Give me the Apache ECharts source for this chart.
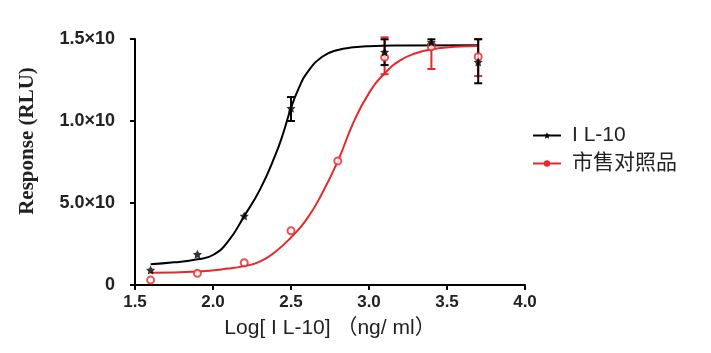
<!DOCTYPE html>
<html>
<head>
<meta charset="utf-8">
<script src="https://cdn.jsdelivr.net/npm/echarts@6/dist/echarts.min.js"></script>
<style>
html,body{margin:0;padding:0;background:#fff;}
#chart{width:711px;height:353px;}
</style>
</head>
<body>
<div id="chart"></div>
<script>
// 测量点 (log 浓度)
var ilX = [1.6, 1.9, 2.2, 2.5, 3.1, 3.4, 3.7];
var ilY = [0.091, 0.187, 0.42, 1.077, 1.42, 1.48, 1.36];
var ilLow = [0.091, 0.187, 0.42, 1.0, 1.341, 1.465, 1.23];
var ilHigh = [0.091, 0.187, 0.42, 1.146, 1.498, 1.498, 1.498];

var refX = [1.6, 1.9, 2.2, 2.5, 2.8, 3.1, 3.4, 3.7];
var refY = [0.03, 0.071, 0.136, 0.331, 0.756, 1.388, 1.453, 1.392];
var refLow = [0.03, 0.071, 0.136, 0.331, 0.756, 1.285, 1.317, 1.274];
var refHigh = [0.03, 0.071, 0.136, 0.331, 0.756, 1.51, 1.47, 1.5];

// 拟合曲线 (读图取点)
var ilCurveX = [1.6, 1.75, 1.9, 2.0, 2.1, 2.2, 2.3, 2.4, 2.45, 2.5, 2.55, 2.6, 2.7, 2.8, 2.9, 3.0, 3.2, 3.7];
var ilCurveY = [0.126, 0.138, 0.157, 0.183, 0.27, 0.42, 0.58, 0.793, 0.925, 1.08, 1.2, 1.29, 1.392, 1.433, 1.449, 1.456, 1.46, 1.462];
var refCurveX = [1.6, 1.9, 2.1, 2.2, 2.3, 2.4, 2.5, 2.6, 2.7, 2.8, 2.9, 3.0, 3.1, 3.2, 3.3, 3.4, 3.55, 3.7];
var refCurveY = [0.075, 0.083, 0.1, 0.115, 0.142, 0.203, 0.29, 0.4, 0.56, 0.755, 0.99, 1.17, 1.29, 1.37, 1.413, 1.437, 1.452, 1.457];

var yTickLabels = {'0': '0', '0.5': '5.0×10', '1': '1.0×10', '1.5': '1.5×10'};

var starPath = 'path://M0,-10L2.9,-4L9.5,-3.1L4.8,1.5L5.9,8.1L0,5L-5.9,8.1L-4.8,1.5L-9.5,-3.1L-2.9,-4Z';

function zip(a, b){
    return a.map(function(v, i){ return [v, b[i]]; });
}

function errorBar(color){
    return function(params, api){
        var x = api.value(0);
        var lo = api.coord([x, api.value(1)]);
        var hi = api.coord([x, api.value(2)]);
        if (Math.abs(lo[1] - hi[1]) < 1) return;
        var w = 4;
        var style = {stroke: color, lineWidth: 2};
        return {
            type: 'group',
            children: [
                {type: 'line', shape: {x1: lo[0], y1: lo[1], x2: hi[0], y2: hi[1]}, style: style},
                {type: 'line', shape: {x1: lo[0] - w, y1: lo[1], x2: lo[0] + w, y2: lo[1]}, style: style},
                {type: 'line', shape: {x1: hi[0] - w, y1: hi[1], x2: hi[0] + w, y2: hi[1]}, style: style}
            ]
        };
    };
}

var chart = echarts.init(document.getElementById('chart'));
var option = {
    animation: false,
    grid: {left: 135, right: 186, top: 39, bottom: 68},
    legend: {
        orient: 'vertical',
        left: 527,
        top: 120,
        itemWidth: 28,
        itemHeight: 8,
        itemGap: 7,
        textStyle: {fontSize: 21, color: '#222', fontFamily: 'Liberation Sans, Noto Sans CJK SC', padding: [0, 0, 0, 6]},
        data: ['I L-10', '市售对照品']
    },
    xAxis: {
        type: 'value',
        min: 1.5,
        max: 4.0,
        interval: 0.5,
        name: 'Log[ I L-10] （ng/ ml）',
        nameLocation: 'middle',
        nameGap: 33,
        nameTextStyle: {fontSize: 21, color: '#222', fontFamily: 'Liberation Sans, Noto Sans CJK SC'},
        axisLine: {lineStyle: {color: '#000', width: 2}},
        axisTick: {length: 5, lineStyle: {color: '#000', width: 2}},
        axisLabel: {
            fontSize: 17, fontWeight: 'bold', color: '#222', margin: 9,
            fontFamily: 'Liberation Sans',
            formatter: function(v){ return v.toFixed(1); }
        },
        splitLine: {show: false}
    },
    yAxis: {
        type: 'value',
        min: 0,
        max: 1.5,
        interval: 0.5,
        name: 'Response (RLU)',
        nameLocation: 'middle',
        nameGap: 97,
        nameTextStyle: {fontSize: 21, fontWeight: 'bold', color: '#222', fontFamily: 'Liberation Serif', padding: [0, 0, 0, 42]},
        axisLine: {lineStyle: {color: '#000', width: 2}},
        axisTick: {length: 5, lineStyle: {color: '#000', width: 2}},
        axisLabel: {
            fontSize: 18, fontWeight: 'bold', color: '#222', margin: 20,
            fontFamily: 'Liberation Sans',
            formatter: function(v){ return yTickLabels[String(v)]; }
        },
        splitLine: {show: false}
    },
    series: [
        {
            name: 'I L-10',
            type: 'line',
            data: zip(ilCurveX, ilCurveY),
            smooth: true,
            showSymbol: false,
            symbol: starPath,
            symbolSize: 7,
            lineStyle: {color: '#000', width: 2},
            itemStyle: {color: '#000'}
        },
        {
            name: '市售对照品',
            type: 'line',
            data: zip(refCurveX, refCurveY),
            smooth: true,
            showSymbol: false,
            symbol: 'circle',
            symbolSize: 7,
            lineStyle: {color: '#e8262b', width: 2},
            itemStyle: {color: '#e8262b'}
        },
        {
            name: '市售对照品',
            type: 'custom',
            renderItem: errorBar('#e8262b'),
            data: refX.map(function(x, i){ return [x, refLow[i], refHigh[i]]; }),
            z: 3
        },
        {
            name: 'I L-10',
            type: 'custom',
            renderItem: errorBar('#000'),
            data: ilX.map(function(x, i){ return [x, ilLow[i], ilHigh[i]]; }),
            z: 4
        },
        {
            name: '市售对照品',
            type: 'scatter',
            data: zip(refX, refY),
            symbol: 'emptyCircle',
            symbolSize: 7,
            itemStyle: {color: '#e8262b', borderColor: '#e8262b', borderWidth: 2},
            z: 5
        },
        {
            name: 'I L-10',
            type: 'scatter',
            data: zip(ilX, ilY),
            symbol: starPath,
            symbolSize: 9,
            itemStyle: {color: '#000'},
            z: 6
        }
    ]
};
chart.setOption(option);
</script>
</body>
</html>
